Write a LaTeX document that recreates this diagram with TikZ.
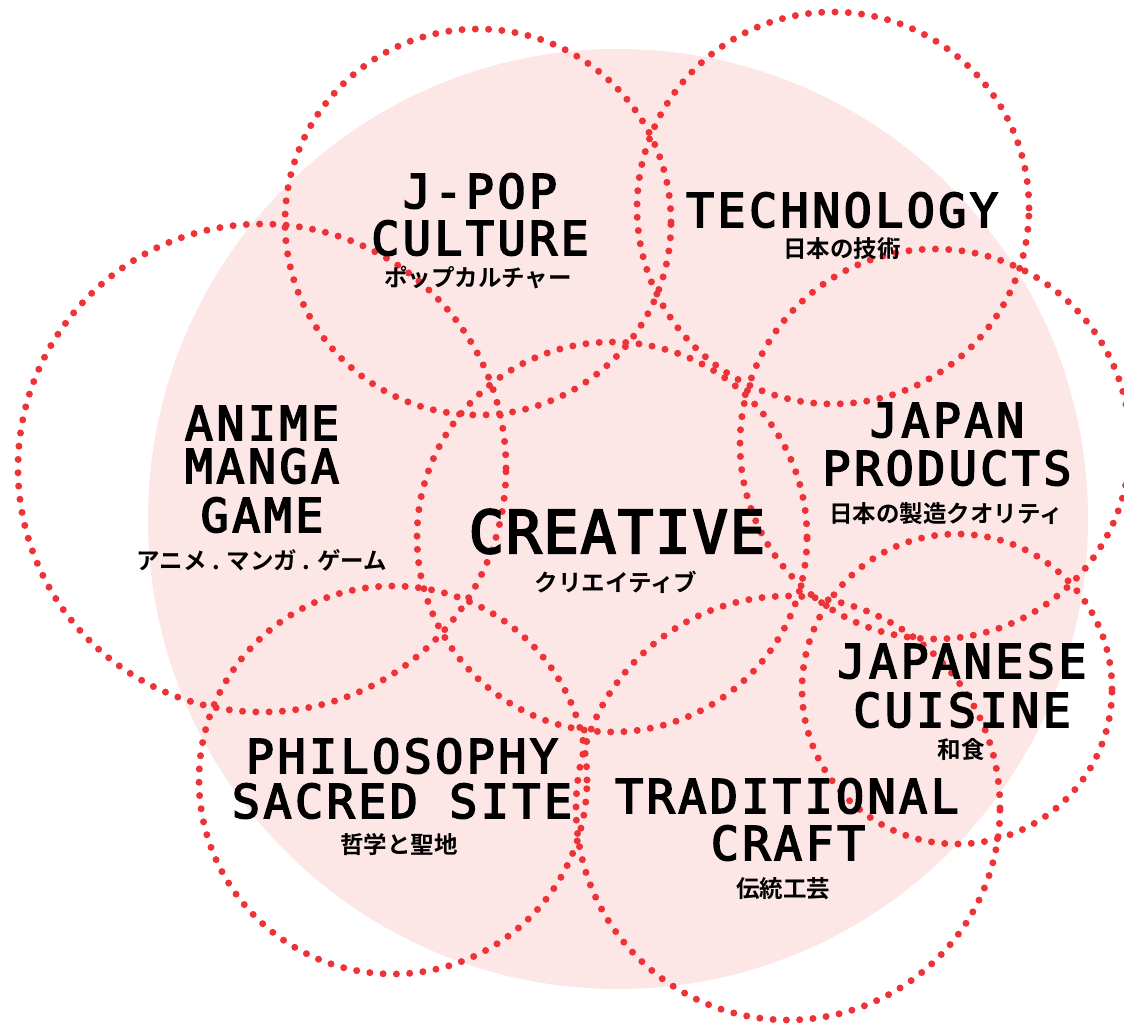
\documentclass[tikz,border=0pt]{standalone}
\usepackage{fontspec}
\newfontfamily\latf{DejaVu Sans Mono}[LetterSpace=7.5,FakeBold=3.5]
\newfontfamily\latbig{DejaVu Sans Mono}[LetterSpace=3,FakeBold=3.5]
\newfontfamily\jpf{Noto Sans CJK JP Bold}
\definecolor{dotred}{HTML}{EE3338}
\definecolor{bgpink}{HTML}{FCE6E6}
\begin{document}
\begin{tikzpicture}[x=1pt,y=-1pt,
  ring/.style={circle, inner sep=0pt, outer sep=0pt, draw=dotred, line width=7pt, line cap=round, dash pattern=on 0pt off 13.3pt},
  title/.style={font=\latf\fontsize{46.6}{50}\selectfont, anchor=base, inner sep=0pt, text=black},
  bigtitle/.style={font=\latbig\fontsize{59}{62}\selectfont, anchor=base, inner sep=0pt, text=black},
  sub/.style={font=\jpf\fontsize{23.5}{26}\selectfont, anchor=center, inner sep=0pt, text=black}]
\useasboundingbox (0,0) rectangle (1124,1024);
\fill[bgpink] (618,519) circle (470);
% rings
\node[ring, minimum size=386] (rjpop) at (478,222) {};
\node[ring, minimum size=392] (rtech) at (833,208) {};
\node[ring, minimum size=488] (ranime) at (262,468) {};
\node[ring, minimum size=390] (rcreat) at (612,537) {};
\node[ring, minimum size=390] (rprod) at (935,444) {};
\node[ring, minimum size=310] (rcuis) at (957,689) {};
\node[ring, minimum size=388] (rphil) at (393,780) {};
\node[ring, minimum size=424] (rtrad) at (788,808) {};
% labels
\node[title] (jpop1) at (480,208) {J-POP};
\node[title] (jpop2) at (480,255) {CULTURE};
\node[sub] (jpop3) at (478,277.5) {ポップカルチャー};
\node[title] (tech1) at (842,227) {TECHNOLOGY};
\node[sub] (tech2) at (842,248.5) {日本の技術};
\node[title] (anim1) at (262,440) {ANIME};
\node[title] (anim2) at (262,483) {MANGA};
\node[title] (anim3) at (262,532) {GAME};
\node[sub] (anim4) at (262,560) {アニメ . マンガ . ゲーム};
\node[bigtitle] (creat1) at (617,553) {CREATIVE};
\node[sub] (creat2) at (616,582) {クリエイティブ};
\node[title] (prod1) at (947,437) {JAPAN};
\node[title] (prod2) at (947,485) {PRODUCTS};
\node[sub] (prod3) at (946,513.5) {日本の製造クオリティ};
\node[title] (cuis1) at (962,678) {JAPANESE};
\node[title] (cuis2) at (962,727) {CUISINE};
\node[sub] (cuis3) at (961,749.5) {和食};
\node[title] (phil1) at (402,773) {PHILOSOPHY};
\node[title] (phil2) at (402,818) {SACRED SITE};
\node[sub] (phil3) at (399,844.5) {哲学と聖地};
\node[title] (trad1) at (787,813) {TRADITIONAL};
\node[title] (trad2) at (788,860) {CRAFT};
\node[sub] (trad3) at (783,888.5) {伝統工芸};
\end{tikzpicture}
\end{document}
